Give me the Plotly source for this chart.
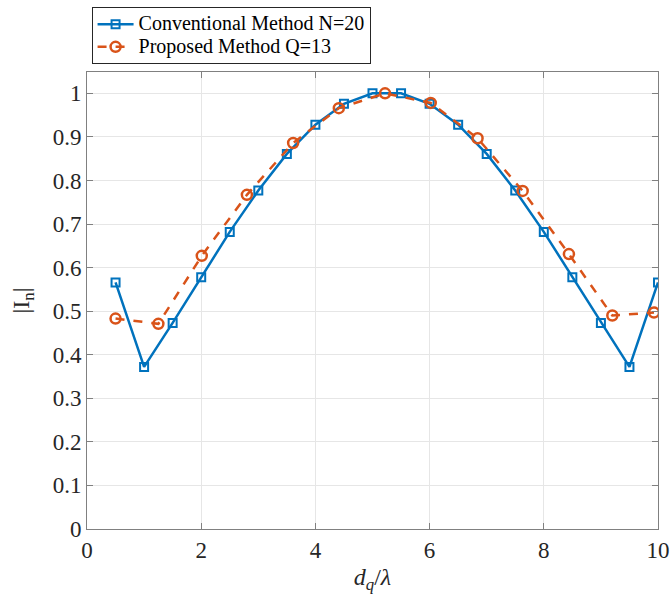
import plotly.graph_objects as go

conv_x = [0.5, 1.0, 1.5, 2.0, 2.5, 3.0, 3.5, 4.0, 4.5, 5.0,
          5.5, 6.0, 6.5, 7.0, 7.5, 8.0, 8.5, 9.0, 9.5, 10.0]
conv_y = [0.566, 0.372, 0.473, 0.578, 0.682, 0.777, 0.861, 0.928, 0.976, 1.0,
          1.0, 0.976, 0.928, 0.861, 0.777, 0.682, 0.578, 0.473, 0.372, 0.566]

prop_x = [0.5, 1.25, 2.01, 2.80, 3.61, 4.41, 5.22, 6.02, 6.84, 7.63, 8.44, 9.20, 9.93]
prop_y = [0.483, 0.471, 0.627, 0.767, 0.886, 0.966, 1.0, 0.978, 0.897, 0.776, 0.631, 0.490, 0.497]

x_ticks = [0, 2, 4, 6, 8, 10]
y_ticks = [0, 0.1, 0.2, 0.3, 0.4, 0.5, 0.6, 0.7, 0.8, 0.9, 1]

names = ["Conventional Method N=20", "Proposed Method Q=13"]

FONT = "Liberation Serif"
BLUE = "#0072BD"
ORANGE = "#D95319"

def big(s):
    return f'<span style="font-size:20px">{s}</span>'

fig = go.Figure()
fig.add_trace(go.Scatter(
    x=conv_x, y=conv_y, mode="lines+markers", name=big(names[0]),
    line=dict(color=BLUE, width=2.5),
    marker=dict(symbol="square-open", size=8, color=BLUE, line=dict(width=2)),
))
fig.add_trace(go.Scatter(
    x=prop_x, y=prop_y, mode="lines+markers", name=big(names[1]),
    line=dict(color=ORANGE, width=2.5, dash="dash"),
    marker=dict(symbol="circle-open", size=10, color=ORANGE, line=dict(width=2.5)),
))

axis_common = dict(
    showgrid=True, gridcolor="#e6e6e6", gridwidth=1,
    showline=True, linecolor="#808080", linewidth=1, mirror="allticks",
    ticks="inside", ticklen=6, tickcolor="#808080",
    zeroline=False, automargin=False,
    tickfont=dict(family=FONT, size=23, color="#262626"),
)

fig.update_xaxes(
    range=[0, 10], tickvals=x_ticks, ticktext=[str(v) for v in x_ticks],
    title=dict(text="<i>d</i><sub><i>q</i></sub>/<i>λ</i>",
               font=dict(family=FONT, size=24, color="#262626"), standoff=6),
    **axis_common,
)
fig.update_yaxes(
    range=[0, 1.049], tickvals=y_ticks, ticktext=[f"{v:g}" for v in y_ticks],
    title=dict(text="|I<sub>n</sub>|",
               font=dict(family=FONT, size=24, color="#262626"), standoff=16),
    **axis_common,
)

fig.update_layout(
    width=672, height=608,
    margin=dict(l=87, r=14, t=72, b=79, autoexpand=False),
    plot_bgcolor="white", paper_bgcolor="white",
    font=dict(family=FONT, color="#262626"),
    legend=dict(
        x=0.008, y=1.142, xanchor="left", yanchor="top",
        bgcolor="white", bordercolor="#262626", borderwidth=1,
        font=dict(family=FONT, size=15, color="#000000"),
        tracegroupgap=0, itemwidth=36,
    ),
)

fig.write_html("out.html")
